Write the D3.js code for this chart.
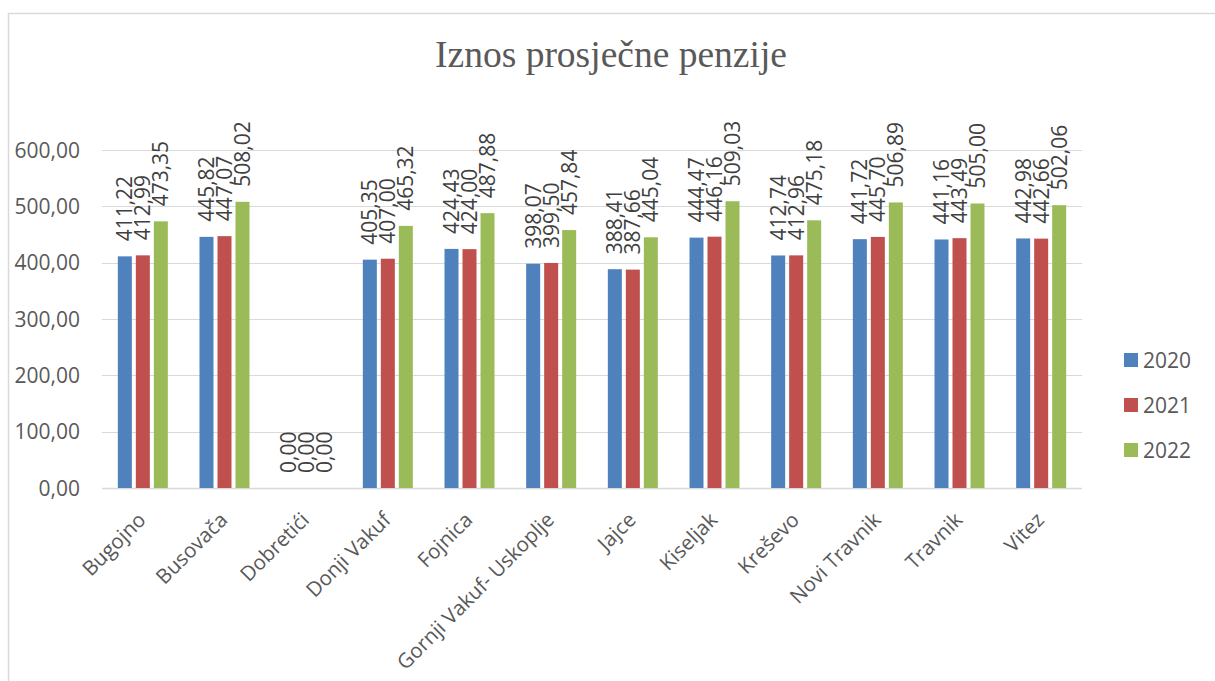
<!DOCTYPE html>
<html>
<head>
<meta charset="utf-8">
<script src="https://cdn.jsdelivr.net/npm/d3@7"></script>
<style>
  body { margin: 0; background: #fff; }
  text { font-family: "Open Sans", sans-serif; }
</style>
</head>
<body>
<svg id="chart" width="1215" height="681"></svg>
<script>
var titleText = "Iznos prosječne penzije";
var municipalities = ["Bugojno", "Busovača", "Dobretići", "Donji Vakuf", "Fojnica",
  "Gornji Vakuf- Uskoplje", "Jajce", "Kiseljak", "Kreševo", "Novi Travnik", "Travnik", "Vitez"];
var years = ["2020", "2021", "2022"];
var values2020 = [411.22, 445.82, 0, 405.35, 424.43, 398.07, 388.41, 444.47, 412.74, 441.72, 441.16, 442.98];
var values2021 = [412.99, 447.07, 0, 407.00, 424.00, 399.50, 387.66, 446.16, 412.96, 445.70, 443.49, 442.66];
var values2022 = [473.35, 508.02, 0, 465.32, 487.88, 457.84, 445.04, 509.03, 475.18, 506.89, 505.00, 502.06];
var yTicks = [0, 100, 200, 300, 400, 500, 600];
var colors = ["#4f81bd", "#c0504d", "#9bbb59"];

var seriesValues = [values2020, values2021, values2022];
var fmt = function(v){ return v.toFixed(2).replace(".", ","); };

var svg = d3.select("#chart");

// outer border (runs off the right and bottom edge like the original)
svg.append("rect")
  .attr("x", 8.5).attr("y", 13.5)
  .attr("width", 1300).attr("height", 800)
  .attr("fill", "none")
  .attr("stroke", "#d9d9d9")
  .attr("stroke-width", 1.5);

svg.append("text")
  .attr("x", 611).attr("y", 67)
  .attr("text-anchor", "middle")
  .style("font-family", "'Liberation Serif', 'Times New Roman', serif")
  .style("font-size", "37.5px")
  .style("fill", "#595959")
  .text(titleText);

var x0 = d3.scaleBand().domain(municipalities).range([102, 1082]).padding(0);
var x1 = d3.scaleBand().domain(years).range([-25, 25]).paddingInner(4 / 18).paddingOuter(0);
var y = d3.scaleLinear().domain([0, 600]).range([488, 150]);

// gridlines
svg.selectAll(".grid").data(yTicks)
  .enter().append("line")
  .attr("class", "grid")
  .attr("x1", 102).attr("x2", 1082)
  .attr("y1", function(d){ return Math.round(y(d)) + 0.5; })
  .attr("y2", function(d){ return Math.round(y(d)) + 0.5; })
  .attr("stroke", "#d9d9d9")
  .attr("stroke-width", function(d){ return d == 0 ? 1.5 : 1; });

// y tick labels
svg.selectAll(".ytick").data(yTicks)
  .enter().append("text")
  .attr("class", "ytick")
  .attr("x", 80)
  .attr("y", function(d){ return y(d); })
  .attr("dy", "0.36em")
  .attr("text-anchor", "end")
  .style("font-size", "21px")
  .style("fill", "#595959")
  .text(function(d){ return fmt(d); });

// bars + labels per series
years.forEach(function(yr, si){
  var vals = seriesValues[si];
  var g = svg.append("g");
  g.selectAll("rect").data(vals)
    .enter().append("rect")
    .attr("x", function(d, i){ return x0(municipalities[i]) + x0.bandwidth() / 2 + x1(yr); })
    .attr("y", function(d){ return y(d); })
    .attr("width", x1.bandwidth())
    .attr("height", function(d){ return y(0) - y(d); })
    .attr("fill", colors[si]);

  g.selectAll("text").data(vals)
    .enter().append("text")
    .attr("transform", function(d, i){
      var cx = x0(municipalities[i]) + x0.bandwidth() / 2 + x1(yr) + x1.bandwidth() / 2;
      return "translate(" + cx + "," + (y(d) - 15) + ") rotate(-90)";
    })
    .attr("dy", "0.36em")
    .attr("text-anchor", "start")
    .style("font-size", "21px")
    .style("fill", "#404040")
    .text(function(d){ return fmt(d); });
});

// category labels
svg.selectAll(".xlab").data(municipalities)
  .enter().append("text")
  .attr("class", "xlab")
  .attr("transform", function(d){
    return "translate(" + (x0(d) + x0.bandwidth() / 2 - 1) + ",516) rotate(-45)";
  })
  .attr("dy", "0.36em")
  .attr("text-anchor", "end")
  .style("font-size", "20.5px")
  .style("fill", "#595959")
  .text(function(d){ return d; });

// legend
var legend = svg.selectAll(".legend").data(years)
  .enter().append("g")
  .attr("class", "legend")
  .attr("transform", function(d, i){ return "translate(1124," + (360 + i * 45) + ")"; });
legend.append("rect")
  .attr("x", 0).attr("y", -7)
  .attr("width", 14).attr("height", 14)
  .attr("fill", function(d, i){ return colors[i]; });
legend.append("text")
  .attr("x", 19).attr("y", 0)
  .attr("dy", "0.36em")
  .style("font-size", "21px")
  .style("fill", "#595959")
  .text(function(d){ return d; });
</script>
</body>
</html>
